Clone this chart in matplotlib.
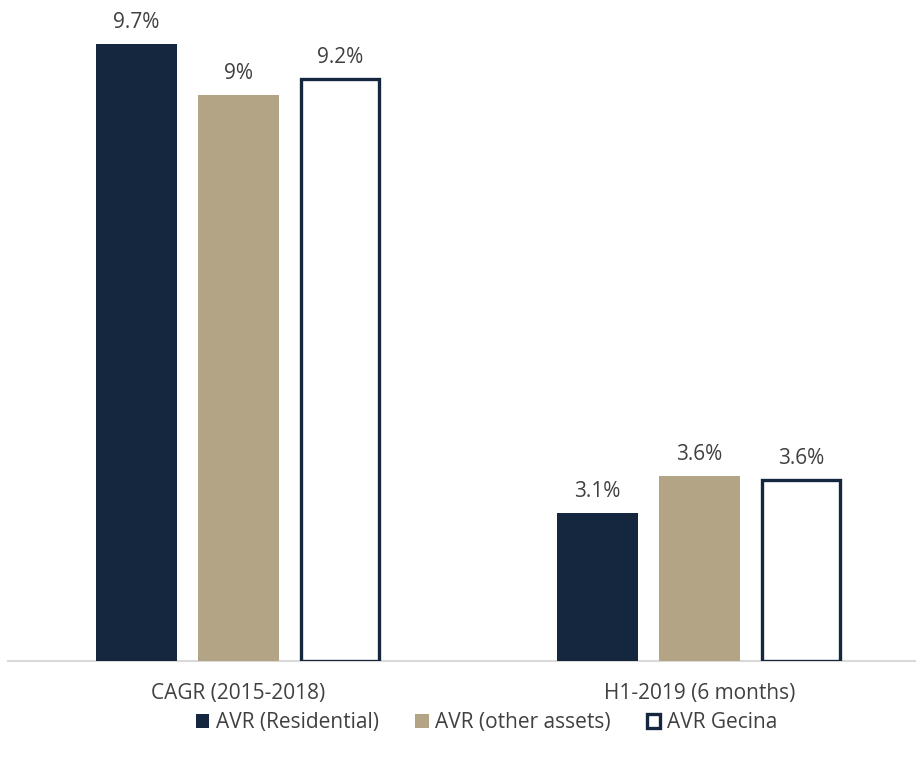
import numpy as np
import matplotlib.pyplot as plt

plt.rcParams['font.family'] = ['Open Sans', 'DejaVu Sans']

categories = ['CAGR (2015-2018)', 'H1-2019 (6 months)']
series_names = ['AVR (Residential)', 'AVR (other assets)', 'AVR Gecina']
# bar heights as drawn in the picture, labels as printed
heights = {
    'AVR (Residential)': [9.7, 2.33],
    'AVR (other assets)': [8.9, 2.91],
    'AVR Gecina': [9.15, 2.85],
}
labels = {
    'AVR (Residential)': ['9.7%', '3.1%'],
    'AVR (other assets)': ['9%', '3.6%'],
    'AVR Gecina': ['9.2%', '3.6%'],
}

navy = '#14273f'
tan = '#b3a486'
text_col = '#404040'

fig = plt.figure(figsize=(9.16, 7.58), dpi=100)
ax = fig.add_axes([0.0087, 0.128, 0.9913, 0.859])

x = np.arange(len(categories))
width = 0.176
step = 0.221

for i, name in enumerate(series_names):
    pos = x + (i - 1) * step
    if name == 'AVR Gecina':
        bars = ax.bar(pos, heights[name], width=width - 0.006, facecolor='white',
                      edgecolor=navy, linewidth=2.4, label=name, zorder=3)
    else:
        bars = ax.bar(pos, heights[name], width=width,
                      color=navy if i == 0 else tan, label=name, zorder=3)
    for b, lab in zip(bars, labels[name]):
        ax.text(b.get_x() + b.get_width() / 2, b.get_height() + 0.17, lab,
                ha='center', va='bottom', fontsize=15, color=text_col)

ax.set_xlim(-0.5, 1.47)
ax.set_ylim(0, 10.23)
ax.set_xticks(x)
ax.set_xticklabels(categories, fontsize=15, color=text_col)
ax.tick_params(axis='x', length=0, pad=16)
ax.set_yticks([])
for s in ['top', 'right', 'left']:
    ax.spines[s].set_visible(False)
ax.spines['bottom'].set_color('#d9d9d9')
ax.spines['bottom'].set_linewidth(1.5)

fig.legend(loc='center', bbox_to_anchor=(0.531, 0.047), ncol=3, frameon=False,
           fontsize=15, handlelength=0.65, handleheight=0.65, handletextpad=0.3,
           columnspacing=1.75, labelcolor=text_col)

plt.savefig('out.png', dpi=100)
